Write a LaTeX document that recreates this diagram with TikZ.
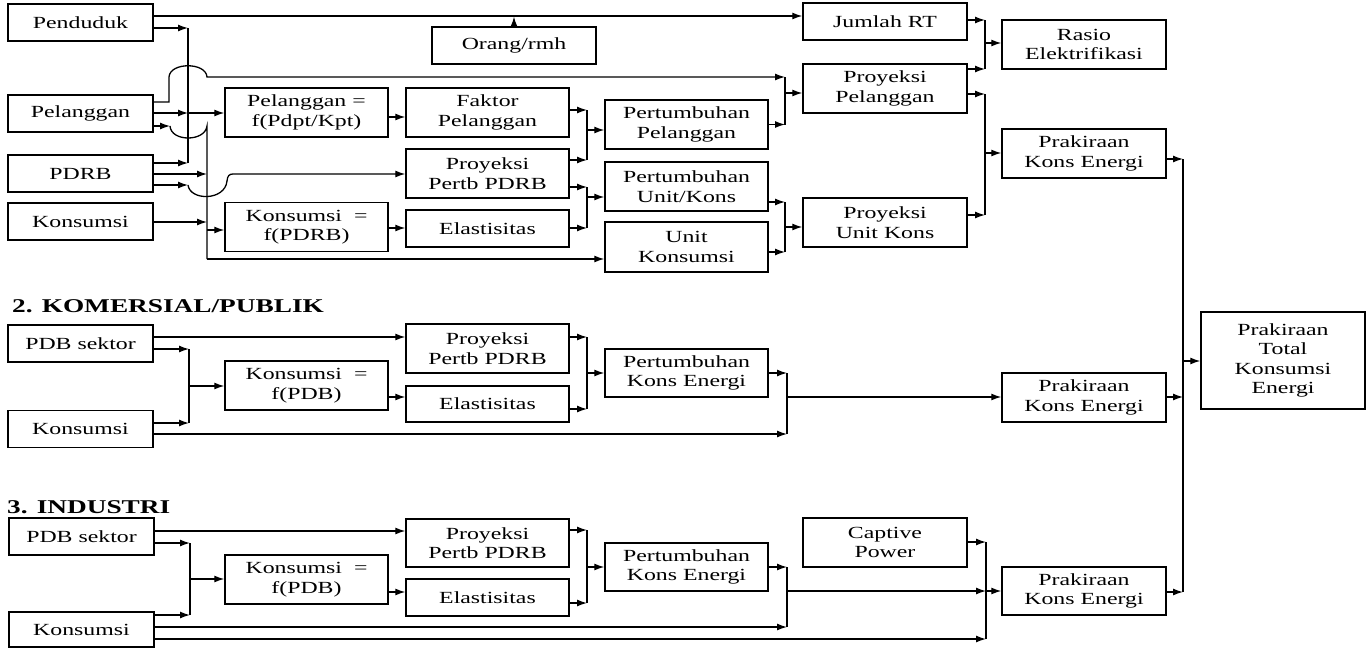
\documentclass[tikz,border=0pt]{standalone}
\usepackage{fontspec}
\setmainfont{Liberation Serif}[FakeStretch=1.4]
\usetikzlibrary{arrows.meta}
\begin{document}
\begin{tikzpicture}[x=1pt,y=-1pt,
  box/.style={draw,line width=1.4pt,inner sep=0pt,align=center,
    font=\fontsize{17}{19.5}\selectfont,minimum width=163pt,minimum height=49pt},
  inbox/.style={box,minimum width=145pt,minimum height=37pt},
  thin/.style={box,minimum height=37pt},
  ln/.style={line width=1.3pt},
  arr/.style={ln,-{Latex[length=10pt,width=7pt]}},
  head/.style={anchor=base west,inner sep=0pt,font=\fontsize{19.5}{22}\selectfont\bfseries}]
\useasboundingbox (0,0) rectangle (1371,648);
% ---------- section 1 nodes
\node[inbox] (pend) at (80.5,22.5) {Penduduk};
\node[inbox] (pel)  at (80.5,113.5) {Pelanggan};
\node[inbox] (pdrb) at (80.5,173.5) {PDRB};
\node[inbox] (kons) at (80.5,221.5) {Konsumsi};
\node[box] (pelf)  at (306.5,112.5) {Pelanggan =\\f(Pdpt/Kpt)};
\node[box] (konsf) at (306.5,227) {Konsumsi\ \ =\\f(PDRB)};
\node[thin,minimum width=164pt] (orang) at (514,45.5) {Orang/rmh};
\node[box] (faktor) at (487.5,112.5) {Faktor\\Pelanggan};
\node[box] (proy1)  at (487.5,173.5) {Proyeksi\\Pertb PDRB};
\node[thin] (elas1) at (487.5,228.5) {Elastisitas};
\node[box] (pertpel)  at (686.5,124.5) {Pertumbuhan\\Pelanggan};
\node[box] (pertunit) at (686.5,186.5) {Pertumbuhan\\Unit/Kons};
\node[box,minimum height=50pt] (unitk) at (686.5,247) {Unit\\Konsumsi};
\node[thin,minimum width=164pt] (jrt) at (885,21.5) {Jumlah RT};
\node[box,minimum width=164pt] (proypel)  at (885,88.5) {Proyeksi\\Pelanggan};
\node[box,minimum width=164pt] (proyunit) at (885,222.5) {Proyeksi\\Unit Kons};
\node[box,minimum width=164pt] (rasio) at (1084,44.5) {Rasio\\Elektrifikasi};
\node[box,minimum width=164pt] (prak1) at (1084,153.5) {Prakiraan\\Kons Energi};
\node[box,minimum width=164pt,minimum height=97pt] (total) at (1283,360.5) {Prakiraan\\Total\\Konsumsi\\Energi};
% ---------- section 2
\node[head] (h2) at (12,312) {2. KOMERSIAL/PUBLIK};
\node[inbox] (pdb2)  at (80.5,343.5) {PDB sektor};
\node[inbox] (kons2) at (80.5,429) {Konsumsi};
\node[box] (konsf2) at (306.5,385.5) {Konsumsi\ \ =\\f(PDB)};
\node[box] (proy2)  at (487.5,348.5) {Proyeksi\\Pertb PDRB};
\node[box,minimum height=36pt] (elas2) at (487.5,404) {Elastisitas};
\node[box,minimum height=48pt] (pert2) at (686.5,373) {Pertumbuhan\\Kons Energi};
\node[box,minimum width=164pt] (prak2) at (1084,397.5) {Prakiraan\\Kons Energi};
% ---------- section 3
\node[head] (h3) at (7,513) {3. INDUSTRI};
\node[inbox] (pdb3)  at (81.5,536.5) {PDB sektor};
\node[inbox,minimum height=35pt] (kons3) at (81.5,629.5) {Konsumsi};
\node[box] (konsf3) at (306.5,579.5) {Konsumsi\ \ =\\f(PDB)};
\node[box,minimum height=48pt] (proy3) at (487.5,543) {Proyeksi\\Pertb PDRB};
\node[thin] (elas3) at (487.5,597.5) {Elastisitas};
\node[box,minimum height=48pt] (pert3) at (686.5,567) {Pertumbuhan\\Kons Energi};
\node[box,minimum width=164pt] (captive) at (885,542.5) {Captive\\Power};
\node[box,minimum width=164pt,minimum height=48pt] (prak3) at (1084,591) {Prakiraan\\Kons Energi};
% ---------- bus coordinates
\coordinate (A1) at (188,28);   \coordinate (A2) at (188,163);
\coordinate (B1) at (207,126);  \coordinate (B2) at (207,259);
% ---------- section 1 connectors
\draw[arr] (pend.east |- 0,16) -- (jrt.west |- 0,16);
\draw[arr] (orang.north) -- (orang.north |- 0,16.6);
\draw[arr] (pend.east |- 0,28) -- (A1);
\draw[arr] (pel.east |- 0,113) -- (A1 |- 0,113);
\draw[arr] (A1 |- 0,113) -- (pelf.west |- 0,113);
\draw[arr] (pdrb.east |- 0,163) -- (A2);
\draw[ln] (A1) -- (A2);
\draw[arr] (pel.east |- 0,102) -- (169,102) -- (169,77)
  .. controls (170,62) and (206,62) .. (207,77) -- (785,77);
\draw[arr] (pel.east |- 0,126) -- (170,126);
\draw[ln] (170,126) .. controls (171,142) and (205,142) .. (B1) -- (B2);
\draw[arr] (B2) -- (unitk.west |- B2);
\draw[arr] (pdrb.east |- 0,174) -- (B1 |- 0,174);
\draw[arr] (pdrb.east |- 0,185) -- (188,185);
\draw[arr] (188,185) .. controls (190,201) and (225,201) .. (227,181)
  .. controls (227.5,176) and (229,174) .. (233,174) -- (proy1.west |- 0,174);
\draw[arr] (kons.east |- 0,222) -- (B1 |- 0,222);
\draw[arr] (B1 |- 0,230) -- (konsf.west |- 0,230);
\draw[arr] (pelf.east |- 0,117) -- (faktor.west |- 0,117);
\draw[arr] (konsf.east |- 0,228) -- (elas1.west |- 0,228);
\draw[arr] (faktor.east |- 0,110) -- (587,110);
\draw[arr] (proy1.east |- 0,160) -- (587,160);
\draw[ln] (587,110) -- (587,160);
\draw[arr] (587,130) -- (pertpel.west |- 0,130);
\draw[arr] (proy1.east |- 0,187) -- (587,187);
\draw[arr] (elas1.east |- 0,228) -- (587,228);
\draw[ln] (587,187) -- (587,228);
\draw[arr] (587,197) -- (pertunit.west |- 0,197);
\draw[arr] (pertpel.east |- 0,124.5) -- (785,124.5);
\draw[ln] (785,77) -- (785,124.5);
\draw[arr] (785,93) -- (proypel.west |- 0,93);
\draw[arr] (pertunit.east |- 0,202) -- (785,202);
\draw[arr] (unitk.east |- 0,252) -- (785,252);
\draw[ln] (785,202) -- (785,252);
\draw[arr] (785,227) -- (proyunit.west |- 0,227);
\draw[arr] (jrt.east |- 0,20) -- (985,20);
\draw[arr] (proypel.east |- 0,69) -- (985,69);
\draw[ln] (985,20) -- (985,69);
\draw[arr] (985,43) -- (rasio.west |- 0,43);
\draw[arr] (proypel.east |- 0,94) -- (985,94);
\draw[arr] (proyunit.east |- 0,215) -- (985,215);
\draw[ln] (985,94) -- (985,215);
\draw[arr] (985,153) -- (prak1.west |- 0,153);
\draw[arr] (prak1.east |- 0,159) -- (1183,159);
\draw[arr] (prak2.east |- 0,397) -- (1183,397);
\draw[arr] (prak3.east |- 0,592) -- (1183,592);
\draw[ln] (1183,159) -- (1183,592);
\draw[arr] (1183,361) -- (total.west |- 0,361);
% ---------- section 2 connectors
\draw[arr] (pdb2.east |- 0,337) -- (proy2.west |- 0,337);
\draw[arr] (pdb2.east |- 0,349) -- (189,349);
\draw[arr] (kons2.east |- 0,423) -- (189,423);
\draw[ln] (189,349) -- (189,423);
\draw[arr] (189,386) -- (konsf2.west |- 0,386);
\draw[arr] (konsf2.east |- 0,397) -- (elas2.west |- 0,397);
\draw[arr] (proy2.east |- 0,337) -- (587,337);
\draw[arr] (elas2.east |- 0,409) -- (587,409);
\draw[ln] (587,337) -- (587,409);
\draw[arr] (587,373) -- (pert2.west |- 0,373);
\draw[arr] (pert2.east |- 0,373) -- (787,373);
\draw[arr] (kons2.east |- 0,434) -- (787,434);
\draw[ln] (787,373) -- (787,434);
\draw[arr] (787,397) -- (prak2.west |- 0,397);
% ---------- section 3 connectors
\draw[arr] (pdb3.east |- 0,531) -- (proy3.west |- 0,531);
\draw[arr] (pdb3.east |- 0,543) -- (190,543);
\draw[arr] (kons3.east |- 0,615) -- (190,615);
\draw[ln] (190,543) -- (190,615);
\draw[arr] (190,579) -- (konsf3.west |- 0,579);
\draw[arr] (konsf3.east |- 0,592) -- (elas3.west |- 0,592);
\draw[arr] (proy3.east |- 0,530) -- (587,530);
\draw[arr] (elas3.east |- 0,603) -- (587,603);
\draw[ln] (587,530) -- (587,603);
\draw[arr] (587,567) -- (pert3.west |- 0,567);
\draw[arr] (pert3.east |- 0,567) -- (787,567);
\draw[arr] (kons3.east |- 0,627) -- (787,627);
\draw[ln] (787,567) -- (787,627);
\draw[arr] (787,591) -- (986,591);
\draw[arr] (986,591) -- (prak3.west |- 0,591);
\draw[arr] (captive.east |- 0,542) -- (986,542);
\draw[arr] (kons3.east |- 0,639) -- (986,639);
\draw[ln] (986,542) -- (986,639);
\end{tikzpicture}
\end{document}
